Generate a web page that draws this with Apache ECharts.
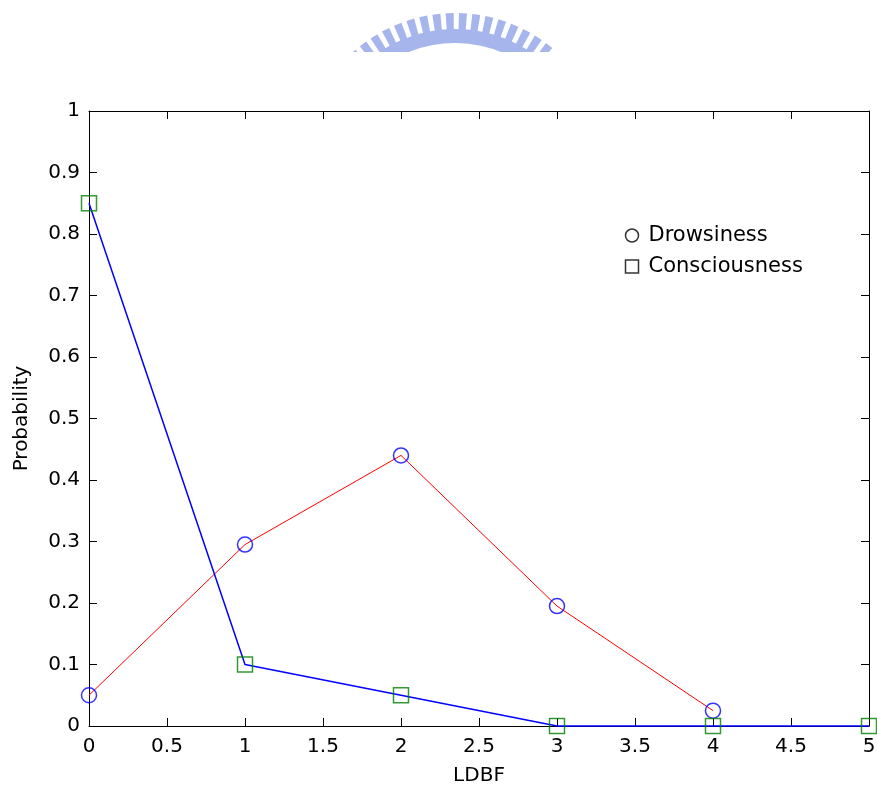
<!DOCTYPE html>
<html>
<head>
<meta charset="utf-8">
<script src="https://cdn.jsdelivr.net/npm/echarts@6/dist/echarts.min.js"></script>
<style>
html, body { margin: 0; padding: 0; background: #fff; }
#main { width: 877px; height: 787px; }
</style>
</head>
<body>
<div id="main"></div>
<script>
var ldbf = [0, 1, 2, 3, 4, 5];
var drowsiness = [0.05, 0.295, 0.44, 0.195, 0.025];
var consciousness = [0.85, 0.1, 0.05, 0, 0, 0];

function pairs(ys) {
	var out = [];
	for (var i = 0; i < ys.length; i++) {
		out.push([ldbf[i], ys[i]]);
	}
	return out;
}

var font = 'DejaVu Sans';
var black = '#000';

// watermark logo (decoration only)
var logo = [];
var cx = 455, cy = 166;
logo.push({
	type: 'sector',
	shape: { cx: cx, cy: cy, r0: 123, r: 137, startAngle: -Math.PI / 2 - 0.8, endAngle: -Math.PI / 2 + 0.8 },
	style: { fill: '#a6b5ec' },
	z: 0
});
for (var a = -42; a <= 42; a += 5) {
	var t = (a - 90) * Math.PI / 180;
	var w = 1.5 * Math.PI / 180;
	logo.push({
		type: 'polygon',
		shape: { points: [
			[cx + 135 * Math.cos(t - w), cy + 135 * Math.sin(t - w)],
			[cx + 153 * Math.cos(t - w), cy + 153 * Math.sin(t - w)],
			[cx + 153 * Math.cos(t + w), cy + 153 * Math.sin(t + w)],
			[cx + 135 * Math.cos(t + w), cy + 135 * Math.sin(t + w)]
		] },
		style: { fill: '#a6b5ec' },
		z: 0
	});
}
logo.push({
	type: 'rect',
	shape: { x: 280, y: 52, width: 340, height: 55 },
	style: { fill: '#fff' },
	z: 1
});

var chart = echarts.init(document.getElementById('main'));
chart.setOption({
	animation: false,
	backgroundColor: '#fff',
	graphic: logo,
	grid: { left: 89, right: 8, top: 111, bottom: 61, containLabel: false, outerBoundsMode: 'none' },
	legend: {
		left: 618,
		top: 220,
		orient: 'vertical',
		itemWidth: 13,
		itemHeight: 13,
		itemGap: 10,
		textStyle: { fontFamily: font, fontSize: 21, color: black, padding: [0, 0, 0, 5] },
		data: [
			{ name: 'Drowsiness', icon: 'circle', itemStyle: { color: 'none', borderColor: black, borderWidth: 1.5 } },
			{ name: 'Consciousness', icon: 'rect', itemStyle: { color: 'none', borderColor: black, borderWidth: 1.5 } }
		]
	},
	xAxis: [{
		type: 'value', min: 0, max: 5, interval: 0.5,
		name: 'LDBF', nameLocation: 'middle', nameGap: 40,
		nameTextStyle: { fontFamily: font, fontSize: 20, color: black },
		axisLine: { onZero: false, lineStyle: { color: black, width: 1 } },
		axisTick: { inside: true, length: 8, lineStyle: { color: black } },
		axisLabel: { fontFamily: font, fontSize: 20, color: black, margin: 11 },
		splitLine: { show: false }
	}, {
		type: 'value', min: 0, max: 5, interval: 0.5, position: 'top',
		axisLine: { onZero: false, lineStyle: { color: black, width: 1 } },
		axisTick: { inside: true, length: 8, lineStyle: { color: black } },
		axisLabel: { show: false },
		splitLine: { show: false }
	}],
	yAxis: [{
		type: 'value', min: 0, max: 1, interval: 0.1,
		name: 'Probability', nameLocation: 'middle', nameGap: 57,
		nameTextStyle: { fontFamily: font, fontSize: 20, color: black },
		axisLine: { show: true, onZero: false, lineStyle: { color: black, width: 1 } },
		axisTick: { show: true, inside: true, length: 8, lineStyle: { color: black } },
		axisLabel: { fontFamily: font, fontSize: 20, color: black, margin: 9 },
		splitLine: { show: false }
	}, {
		type: 'value', min: 0, max: 1, interval: 0.1, position: 'right',
		axisLine: { show: true, onZero: false, lineStyle: { color: black, width: 1 } },
		axisTick: { show: true, inside: true, length: 8, lineStyle: { color: black } },
		axisLabel: { show: false },
		splitLine: { show: false }
	}],
	series: [{
		name: 'drowsiness line',
		type: 'line',
		data: pairs(drowsiness),
		showSymbol: false,
		symbol: 'none',
		lineStyle: { color: '#ff0000', width: 1 },
		clip: false,
		z: 2
	}, {
		name: 'consciousness line',
		type: 'line',
		data: pairs(consciousness),
		showSymbol: false,
		symbol: 'none',
		lineStyle: { color: '#0000ff', width: 1.5 },
		clip: false,
		z: 2
	}, {
		name: 'Drowsiness',
		type: 'scatter',
		data: pairs(drowsiness),
		symbol: 'circle',
		symbolSize: 15,
		itemStyle: { color: 'none', borderColor: '#0000ff', borderWidth: 1.5 },
		clip: false,
		z: 3
	}, {
		name: 'Consciousness',
		type: 'scatter',
		data: pairs(consciousness),
		symbol: 'rect',
		symbolSize: 15,
		itemStyle: { color: 'none', borderColor: '#008000', borderWidth: 1.5 },
		clip: false,
		z: 3
	}]
});
</script>
</body>
</html>
